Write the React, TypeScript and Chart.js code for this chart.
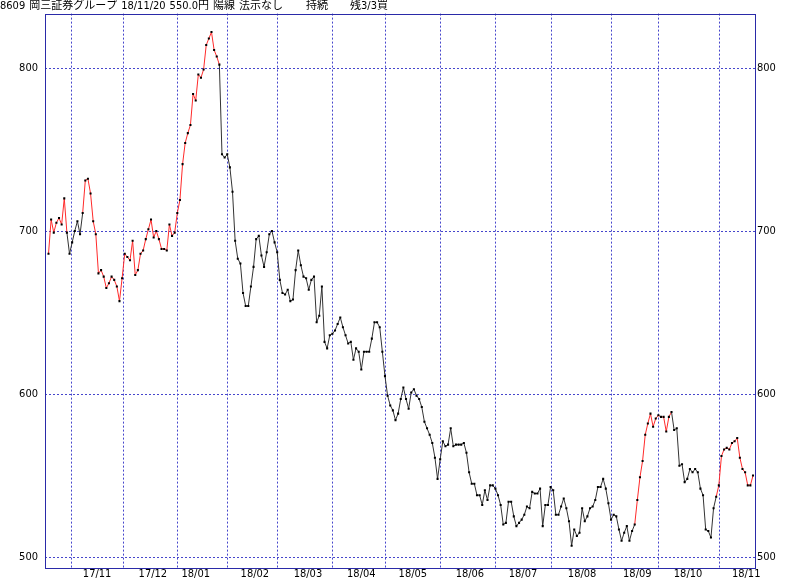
import React, { useEffect, useRef } from "react";
import { Chart, registerables } from "chart.js";

Chart.register(...registerables);

// Daily closes (Oct 2017 – Nov 20 2018)
const closes: number[] = [
  686, 707, 699, 705, 708, 704, 720, 699, 686, 693,
  700, 706, 698, 711, 731, 732, 723, 706, 698, 674,
  676, 672, 665, 668, 672, 670, 666, 657, 671, 686,
  684, 682, 694, 673, 676, 686, 688, 695, 701, 707,
  696, 700, 695, 689, 689, 688, 704, 697, 699, 711,
  719, 741, 754, 760, 765, 784, 780, 796, 794, 799,
  814, 818, 822, 811, 807, 802, 747, 745, 747, 739,
  724, 694, 683, 680, 662, 654, 654, 666, 678, 695,
  697, 685, 678, 687, 698, 700, 693, 687, 670, 662,
  661, 664, 657, 658, 676, 688, 679, 672, 671, 664,
  670, 672, 644, 648, 666, 632, 628, 636, 637, 639,
  643, 647, 641, 636, 631, 632, 621, 628, 626, 615,
  626, 626, 626, 634, 644, 644, 641, 626, 611, 599,
  593, 590, 584, 588, 597, 604, 597, 591, 601, 603,
  599, 597, 592, 583, 579, 575, 570, 561, 548, 560,
  571, 568, 569, 579, 568, 569, 569, 569, 570, 564,
  552, 545, 545, 538, 538, 532, 541, 535, 544, 544,
  542, 538, 532, 520, 521, 534, 534, 525, 519, 521,
  523, 526, 531, 530, 540, 539, 539, 542, 519, 532,
  532, 543, 541, 526, 526, 531, 536, 530, 522, 507,
  517, 513, 515, 530, 522, 525, 530, 531, 535, 543,
  543, 548, 542, 533, 523, 526, 525, 517, 510, 515,
  519, 510, 516, 520, 535, 549, 559, 575, 582, 588,
  580, 585, 587, 586, 586, 577, 586, 589, 578, 579,
  556, 557, 546, 548, 554, 552, 554, 552, 542, 538,
  517, 516, 512, 530, 537, 544, 562, 566, 567, 566,
  570, 571, 573, 561, 554, 552, 544, 544, 550,
];

// Index ranges [from, to] of segments drawn in red (segment starting at index i)
const redRanges: [number, number][] = [
  [0, 6],
  [13, 64],
  [223, 236],
  [254, 267],
];

// Month boundaries (position in trading-day index) and month labels
const monthStartIdx: number[] = [8.5, 28.5, 49, 68, 87, 108, 128, 149, 170, 191, 214, 232, 255];
const monthLabelIdx: number[] = [18.5, 39.7, 56, 78.5, 98.7, 119, 138.6, 160.3, 180.5, 203, 224, 243.3, 265.4];
const monthLabels: string[] = [
  "17/11", "17/12", "18/01", "18/02", "18/03", "18/04", "18/05",
  "18/06", "18/07", "18/08", "18/09", "18/10", "18/11",
];
const priceTicks: number[] = [500, 600, 700, 800];

const titleMain: string[] = ["8609", "岡三証券グループ", "18/11/20", "550.0円", "陽線", "法示なし"];
const titleRight: string[] = ["持続", "残3/3買"];

const GRID = "#4646cc";
const FRAME = "#2a2aa8";
const RED = "#ff2a2a";
const DARK = "#333333";
const FONT = '"DejaVu Sans Condensed", "Noto Sans CJK JP", sans-serif';

export default function App() {
  const ref = useRef<HTMLCanvasElement | null>(null);

  useEffect(() => {
    if (!ref.current) return;
    const n = closes.length;
    const firstPx = 48.5;
    const lastPx = 753;
    const left = 45;
    const right = 755;
    const step = (lastPx - firstPx) / (n - 1);
    const xMin = -(firstPx - left) / step;
    const xMax = n - 1 + (right - lastPx) / step;

    const yTop = 833.3;
    const yBottom = 493.7;

    const isRed = (i: number) => redRanges.some(([a, b]) => i >= a && i <= b);

    const framePlugin = {
      id: "frame",
      beforeDatasetsDraw(chart: any) {
        const { ctx, chartArea, scales } = chart;
        ctx.save();
        ctx.strokeStyle = GRID;
        ctx.lineWidth = 1;
        ctx.setLineDash([2, 2]);
        monthStartIdx.forEach((v) => {
          const x = Math.round(scales.x.getPixelForValue(v)) + 0.5;
          ctx.beginPath();
          ctx.moveTo(x, chartArea.top);
          ctx.lineTo(x, chartArea.bottom);
          ctx.stroke();
        });
        priceTicks.forEach((v) => {
          const y = Math.round(scales.y.getPixelForValue(v)) + 0.5;
          ctx.beginPath();
          ctx.moveTo(chartArea.left, y);
          ctx.lineTo(chartArea.right, y);
          ctx.stroke();
        });
        ctx.restore();
      },
      afterDraw(chart: any) {
        const { ctx, chartArea } = chart;
        ctx.save();
        ctx.strokeStyle = FRAME;
        ctx.lineWidth = 1;
        ctx.setLineDash([]);
        ctx.strokeRect(
          Math.round(chartArea.left) + 0.5,
          Math.round(chartArea.top) + 0.5,
          Math.round(chartArea.right - chartArea.left),
          Math.round(chartArea.bottom - chartArea.top)
        );
        ctx.fillStyle = "#000";
        ctx.font = "11px " + FONT;
        ctx.textBaseline = "middle";
        ctx.textAlign = "left";
        let x = 0;
        titleMain.forEach((t) => {
          ctx.fillText(t, x, 6);
          x += ctx.measureText(t).width + 4;
        });
        ctx.fillText(titleRight[0], 306, 6);
        ctx.fillText(titleRight[1], 350, 6);
        ctx.restore();
      },
    };

    const chart = new Chart(ref.current, {
      type: "line",
      data: {
        datasets: [
          {
            data: closes.map((v, i) => ({ x: i, y: v })),
            borderWidth: 1,
            borderColor: DARK,
            segment: {
              borderColor: (c: any) => (isRed(c.p0DataIndex) ? RED : DARK),
            },
            pointRadius: 1.45,
            pointStyle: "rect",
            pointBackgroundColor: "#000",
            pointBorderWidth: 0,
            tension: 0,
          },
        ],
      },
      options: {
        animation: false,
        responsive: false,
        devicePixelRatio: 1,
        layout: { padding: { top: 12, left: 0, right: 0, bottom: 0 } },
        plugins: { legend: { display: false }, tooltip: { enabled: false }, title: { display: false } },
        scales: {
          x: {
            type: "linear",
            position: "bottom",
            min: xMin,
            max: xMax,
            afterBuildTicks: (s: any) => {
              s.ticks = monthLabelIdx.map((v) => ({ value: v }));
            },
            afterFit: (s: any) => {
              s.height = 11;
            },
            ticks: {
              autoSkip: false,
              maxRotation: 0,
              padding: 0,
              color: "#000",
              font: { family: FONT, size: 11 },
              callback: (_v: any, i: number) => monthLabels[i],
            },
            grid: { display: false, drawTicks: false },
            border: { display: false },
          },
          y: {
            type: "linear",
            position: "left",
            min: yBottom,
            max: yTop,
            afterBuildTicks: (s: any) => {
              s.ticks = priceTicks.map((v) => ({ value: v }));
            },
            afterFit: (s: any) => {
              s.width = 45;
            },
            ticks: {
              padding: 7,
              color: "#000",
              font: { family: FONT, size: 11 },
              callback: (v: any) => String(v),
            },
            grid: { display: false, drawTicks: false },
            border: { display: false },
          },
          y2: {
            type: "linear",
            position: "right",
            min: yBottom,
            max: yTop,
            afterBuildTicks: (s: any) => {
              s.ticks = priceTicks.map((v) => ({ value: v }));
            },
            afterFit: (s: any) => {
              s.width = 45;
            },
            ticks: {
              padding: 2,
              color: "#000",
              font: { family: FONT, size: 11 },
              callback: (v: any) => String(v),
            },
            grid: { display: false, drawTicks: false },
            border: { display: false },
          },
        },
      },
      plugins: [framePlugin],
    } as any);

    return () => chart.destroy();
  }, []);

  return (
    <div style={{ position: "fixed", left: 0, top: 0, width: 800, height: 581, background: "#fff" }}>
      <canvas ref={ref} width={800} height={581} style={{ width: 800, height: 581, display: "block" }} />
    </div>
  );
}
